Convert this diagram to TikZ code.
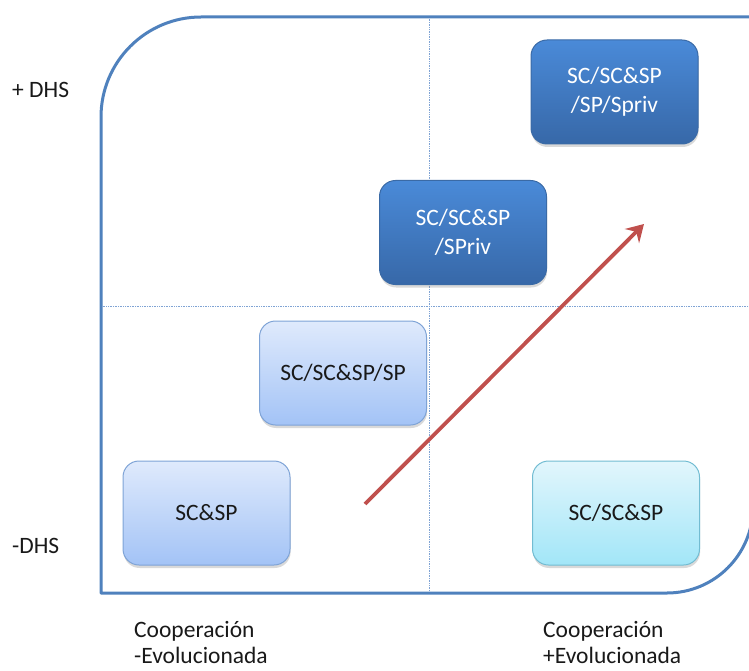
\documentclass[tikz,border=0pt]{standalone}
\usepackage{fontspec}
\setmainfont{Carlito}
\usetikzlibrary{shadows,arrows.meta}

\definecolor{frameblue}{HTML}{4F81BD}
\definecolor{gridblue}{HTML}{7FA3D4}
\definecolor{darktop}{HTML}{4A8AD8}
\definecolor{darkbot}{HTML}{3768A8}
\definecolor{darkedge}{HTML}{3A6AA6}
\definecolor{lighttop}{HTML}{DFEAFC}
\definecolor{lightbot}{HTML}{A3C3F6}
\definecolor{lightedge}{HTML}{7EA3D6}
\definecolor{cyantop}{HTML}{E2F6FC}
\definecolor{cyanbot}{HTML}{A2E6F8}
\definecolor{cyanedge}{HTML}{72BCD2}
\definecolor{trendred}{HTML}{C0504D}

\begin{document}
\begin{tikzpicture}[x=1pt,y=-1pt,
  frame/.style={draw=frameblue, line width=3pt, line join=round},
  divider/.style={draw=gridblue, line width=0.8pt, dash pattern=on 1pt off 0.7pt},
  cell/.style={rounded corners=16pt, minimum width=167pt, minimum height=104pt,
    inner sep=0pt, align=center, line width=1pt,
    font=\fontsize{23.5}{29}\selectfont,
    drop shadow={opacity=0.3, shadow xshift=0.6pt, shadow yshift=-3pt}},
  darkcell/.style={cell, draw=darkedge, top color=darktop, bottom color=darkbot, text=white},
  lightcell/.style={cell, draw=lightedge, top color=lighttop, bottom color=lightbot, text=black!90},
  cyancell/.style={cell, draw=cyanedge, top color=cyantop, bottom color=cyanbot, text=black!90},
  axislabel/.style={inner sep=0pt, align=left, text=black!90,
    font=\fontsize{23.5}{26}\selectfont},
  trend/.style={draw=trendred, line width=3.8pt,
    -{Stealth[length=17pt, width=20pt, inset=6pt]}}
]
\useasboundingbox (0,0) rectangle (749,671);
\clip (0,0) rectangle (749,671);

% quadrant dividers
\draw[divider] (429,17) -- (429,593);
\draw[divider] (101,306) -- (760,306);

% outer frame with two rounded corners
\draw[frame] (101,593) -- (101,117)
  .. controls (101,61.8) and (145.8,17) .. (201,17)
  -- (753,17) -- (753,507)
  .. controls (753,554.5) and (714.5,593) .. (667,593) -- cycle;

% stages
\node[darkcell]  (spriv)  at (614.5,92)   {SC/SC\&SP\\/SP/Spriv};
\node[darkcell]  (sprivb) at (463,232.5)  {SC/SC\&SP\\/SPriv};
\node[lightcell] (scsp)   at (343,373)    {SC/SC\&SP/SP};
\node[lightcell] (base)   at (206.5,513)  {SC\&SP};
\node[cyancell]  (coop)   at (616,513)    {SC/SC\&SP};

% trend arrow
\coordinate (trendstart) at (365,504);
\coordinate (trendend)   at (644,224);
\draw[trend] (trendstart) -- (trendend);

% axis labels (base anchor sits on the last line)
\node[axislabel, anchor=base west] (dhshigh) at (12,98)  {+ DHS};
\node[axislabel, anchor=base west] (dhslow)  at (12,553) {-DHS};
\node[axislabel, anchor=base west] (coopless) at (134,663) {Cooperación\\-Evolucionada};
\node[axislabel, anchor=base west] (coopmore) at (543,663) {Cooperación\\+Evolucionada};
\end{tikzpicture}
\end{document}
